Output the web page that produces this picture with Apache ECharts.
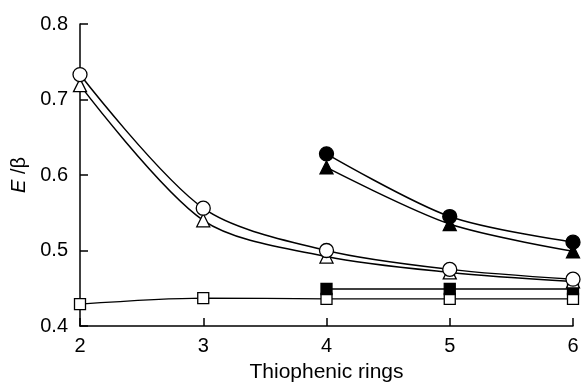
<!DOCTYPE html>
<html>
<head>
<meta charset="utf-8">
<script src="https://cdn.jsdelivr.net/npm/echarts@6/dist/echarts.min.js"></script>
<style>html,body{margin:0;padding:0;background:#fff}#c{width:583px;height:382px}</style>
</head>
<body>
<div id="c"></div>
<script>
const rings = [2, 3, 4, 5, 6];
const yTicks = [0.4, 0.5, 0.6, 0.7, 0.8];
const openCircle = [0.733, 0.556, 0.500, 0.475, 0.462];
const openTriangle = [0.719, 0.540, 0.492, 0.471, 0.459];
const filledCircle = [null, null, 0.628, 0.545, 0.511];
const filledTriangle = [null, null, 0.610, 0.535, 0.499];
const filledSquare = [null, null, 0.449, 0.449, 0.449];
const openSquare = [0.429, 0.437, 0.436, 0.436, 0.436];

function pts(vals) {
  return rings.map((r, i) => vals[i] == null ? null : [r, vals[i]]).filter(p => p);
}
function ser(vals, symbol, size, filled, lw) {
  return {
    type: 'line',
    data: pts(vals),
    smooth: 0.3,
    symbol: symbol,
    symbolSize: size,
    showAllSymbol: true,
    clip: false,
    lineStyle: { color: '#000', width: lw },
    itemStyle: { color: filled ? '#000' : '#fff', borderColor: '#000', borderWidth: 1.3, opacity: 1 },
    emphasis: { disabled: true },
    animation: false
  };
}
const chart = echarts.init(document.getElementById('c'), null, { renderer: 'canvas' });
const font = 'Liberation Sans, Arial, sans-serif';
chart.setOption({
  backgroundColor: '#fff',
  animation: false,
  grid: { left: 80, right: 10, top: 24, bottom: 56, containLabel: false, outerBoundsMode: 'none' },
  xAxis: {
    type: 'value', min: 2, max: 6, interval: 1,
    name: 'Thiophenic rings', nameLocation: 'middle', nameGap: 36,
    nameTextStyle: { color: '#000', fontSize: 21, fontFamily: font },
    axisLine: { show: true, onZero: false, lineStyle: { color: '#000', width: 1.5 } },
    axisTick: { show: true, inside: true, length: 8, lineStyle: { color: '#000', width: 1.5 } },
    axisLabel: { color: '#000', fontSize: 20, fontFamily: font, margin: 10 },
    splitLine: { show: false }
  },
  yAxis: {
    type: 'value', min: yTicks[0], max: yTicks[yTicks.length - 1], interval: 0.1,
    name: '{i|E} /β', nameLocation: 'middle', nameGap: 50, nameRotate: 90,
    nameTextStyle: { color: '#000', fontSize: 20, fontFamily: font,
      rich: { i: { fontStyle: 'italic', fontSize: 20, fontFamily: font, color: '#000' } } },
    axisLine: { show: true, onZero: false, lineStyle: { color: '#000', width: 1.5 } },
    axisTick: { show: true, inside: true, length: 8, lineStyle: { color: '#000', width: 1.5 } },
    axisLabel: { color: '#000', fontSize: 20, fontFamily: font, margin: 12, formatter: v => v.toFixed(1) },
    splitLine: { show: false }
  },
  series: [
    ser(openSquare, 'rect', 11, false, 1.2),
    ser(filledSquare, 'rect', 11, true, 1.5),
    ser(openTriangle, 'triangle', 13, false, 1.5),
    ser(openCircle, 'circle', 14, false, 1.5),
    ser(filledTriangle, 'triangle', 13, true, 1.5),
    ser(filledCircle, 'circle', 14, true, 1.5)
  ]
});
</script>
</body>
</html>
